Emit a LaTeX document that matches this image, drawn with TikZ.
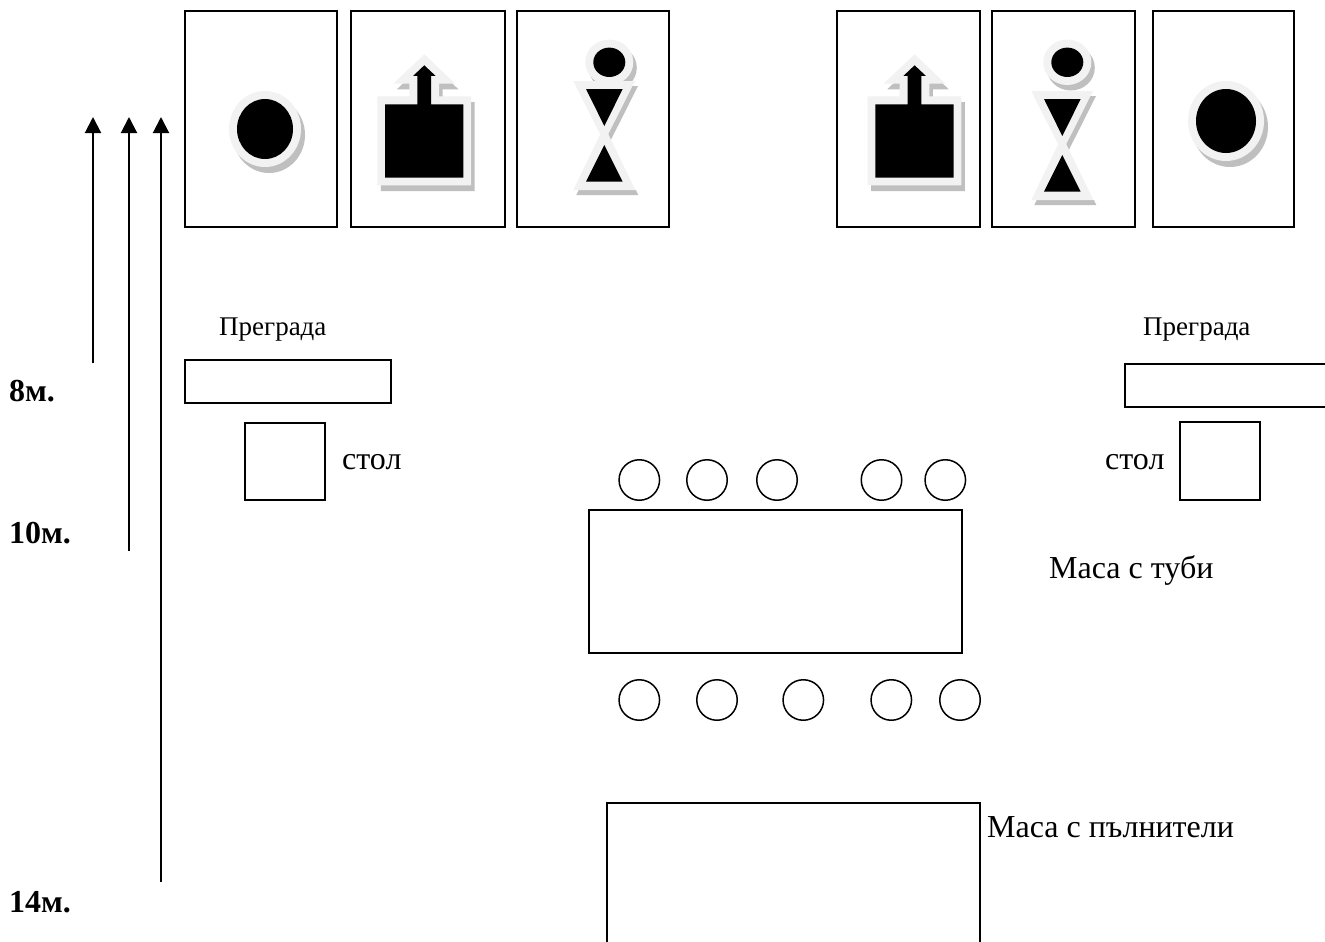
\documentclass[tikz,border=0pt]{standalone}
\usepackage{fontspec}
\setmainfont{Liberation Serif}
\usetikzlibrary{arrows.meta}
\tikzset{
  box/.style={draw=black,line width=1.8pt,fill=white},
  seat/.style={draw=black,line width=1.5pt,fill=white,circle,minimum size=40.5pt,inner sep=0pt},
  lbl/.style={font=\fontsize{32}{36}\selectfont,inner sep=0pt,anchor=base west},
  slbl/.style={font=\fontsize{27}{30}\selectfont,inner sep=0pt,anchor=base west},
  dist/.style={font=\fontsize{32}{36}\selectfont\bfseries,inner sep=0pt,anchor=base west},
  up/.style={draw=black,line width=2pt,-{Triangle[length=16pt,width=16pt]}},
  sh/.style={fill=black!25},
  halo/.style={fill=black!5},
  ink/.style={fill=black}
}
\newcommand{\pdot}[4]{% cx cy rx ry
  \fill[sh] (#1+4,#2+6) ellipse ({#3+8} and {#4+8});
  \fill[halo] (#1,#2) ellipse ({#3+8} and {#4+8});
  \fill[ink] (#1,#2) ellipse (#3 and #4);
}
\newcommand{\pout}[1]{% x shift of the up-arrow figure
  \begin{scope}[shift={(#1,0)}]
  \begin{scope}
  \clip (370,83.7) rectangle (480,200);
  \fill[sh,shift={(3.5,5.7)}] (377.3,185.3) -- (471,185.3) -- (471,96.3) -- (439,96.3) -- (439,83.7) -- (455,83.7) -- (424.3,54.3) -- (393.3,83.7) -- (409.3,83.7) -- (409.3,96.3) -- (377.3,96.3) -- cycle;
  \end{scope}
  \fill[halo] (377.3,185.3) -- (471,185.3) -- (471,96.3) -- (439,96.3) -- (439,83.7) -- (455,83.7) -- (424.3,54.3) -- (393.3,83.7) -- (409.3,83.7) -- (409.3,96.3) -- (377.3,96.3) -- cycle;
  \fill[ink] (385,177.7) -- (463.3,177.7) -- (463.3,104.3) -- (431,104.3) -- (431,76) -- (435.7,76) -- (424.3,65.3) -- (413,76) -- (417.3,76) -- (417.3,104.3) -- (385,104.3) -- cycle;
  \end{scope}
}
\newcommand{\pman}[2]{% x shift, y shift of body
  \begin{scope}[shift={(#1,0)}]
  \fill[sh] (609.3+3.5,62.3+5.5) ellipse (24 and 22.7);
  \fill[halo] (609.3,62.3) ellipse (24 and 22.7);
  \fill[ink] (609.3,62.3) ellipse (16 and 14.7);
  \begin{scope}[shift={(0,#2)}]
  \fill[sh,shift={(3,5)}] (573.3,81) -- (635,81) -- (604.3,142) -- cycle;
  \begin{scope}
  \clip (560,190) rectangle (650,200);
  \fill[sh,shift={(3,5)}] (573.3,190) -- (635.3,190) -- (604.3,126) -- cycle;
  \end{scope}
  \fill[halo] (573.3,81) -- (635,81) -- (604.3,142) -- cycle;
  \fill[halo] (573.3,190) -- (635.3,190) -- (604.3,126) -- cycle;
  \fill[ink] (586,89) -- (622.7,89) -- (604.3,126) -- cycle;
  \fill[ink] (586,181.7) -- (622.7,181.7) -- (604.3,145) -- cycle;
  \end{scope}
  \end{scope}
}
\begin{document}
\begin{tikzpicture}[x=1pt,y=-1pt]
\useasboundingbox (0,0) rectangle (1325,942);
\fill[white] (0,0) rectangle (1325,942);
% cards
\draw[box] (185,11) rectangle (337,227);
\draw[box] (351,11) rectangle (505,227);
\draw[box] (517,11) rectangle (669,227);
\draw[box] (837,11) rectangle (980,227);
\draw[box] (992,11) rectangle (1135,227);
\draw[box] (1153,11) rectangle (1294,227);
\pdot{265}{129}{28}{30}
\pout{0}
\pman{0}{0}
\pout{490.3}
\pman{458}{10}
\pdot{1226}{121}{30}{32}
% arrows
\coordinate (a1s) at (93,363);  \coordinate (a1e) at (93,117);
\coordinate (a2s) at (129,551); \coordinate (a2e) at (129,117);
\coordinate (a3s) at (161,882); \coordinate (a3e) at (161,117);
\draw[up] (a1s) -- (a1e);
\draw[up] (a2s) -- (a2e);
\draw[up] (a3s) -- (a3e);
\node[dist] (d8) at (9,401) {8м.};
\node[dist] (d10) at (9,543) {10м.};
\node[dist] (d14) at (9,912) {14м.};
% barriers and chairs
\node[slbl] (pl) at (219,335) {Преграда};
\node[slbl] (pr) at (1143,335) {Преграда};
\draw[box] (185,360) rectangle (391,403);
\draw[box] (1325,364) -- (1125,364) -- (1125,407) -- (1325,407);
\draw[box] (245,423) rectangle (325,500);
\draw[box] (1180,422) rectangle (1260,500);
\node[lbl] (cl) at (342,469) {стол};
\node[lbl] (cr) at (1105,469) {стол};
% tables
\draw[box] (589,510) rectangle (962,653);
\node[lbl] (t1) at (1049,578) {Маса с туби};
\draw[box] (607,945) -- (607,803) -- (980,803) -- (980,945);
\node[lbl] (t2) at (987,837) {Маса с пълнители};
% seats
\foreach \n/\x in {a/639.3,b/707,c/777,d/881.5,e/945.3} \node[seat] (s\n) at (\x,480) {};
\foreach \n/\x in {f/639.3,g/717,h/803.3,i/891.3,j/960} \node[seat] (s\n) at (\x,700) {};
\end{tikzpicture}
\end{document}
